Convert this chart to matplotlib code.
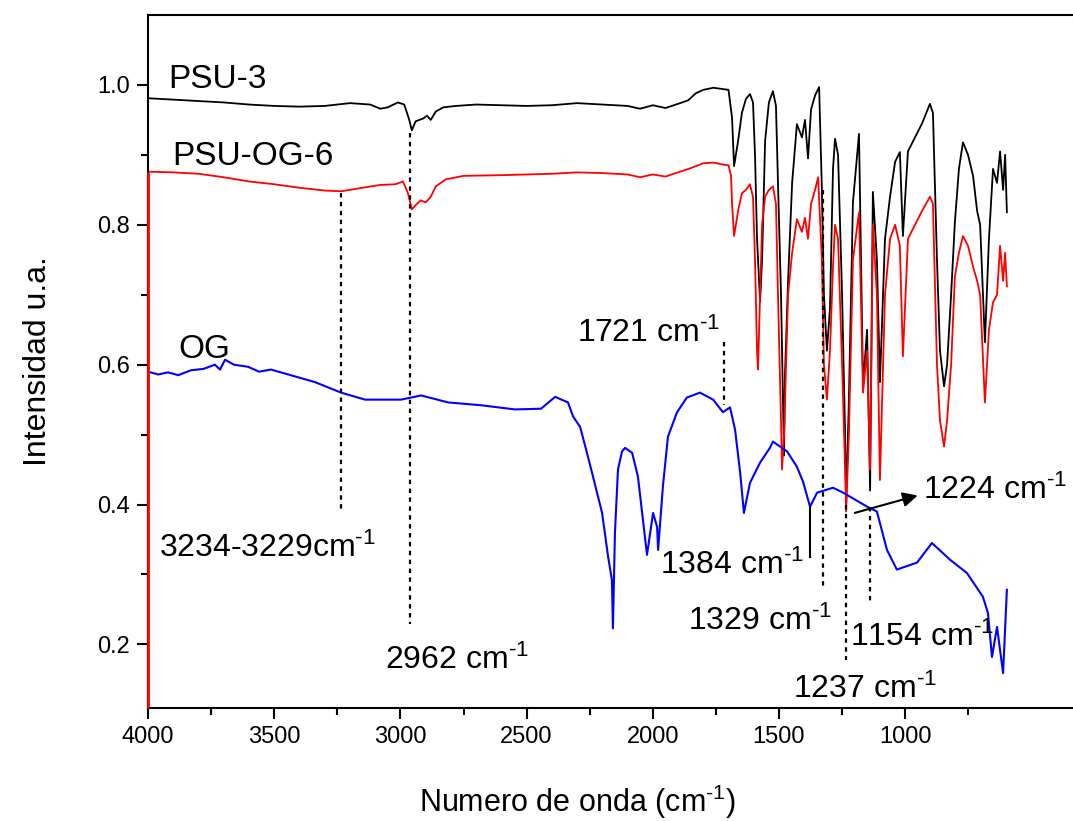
import matplotlib
matplotlib.use("Agg")
from matplotlib import pyplot as plt

plt.rcParams["font.family"] = ["Liberation Sans", "DejaVu Sans"]
plt.rcParams["mathtext.fontset"] = "custom"
plt.rcParams["mathtext.rm"] = "Liberation Sans"
plt.rcParams["mathtext.it"] = "Liberation Sans:italic"

# PSU-3 (black)
psu3_wn = [4000, 3900, 3800, 3700, 3600, 3500, 3400, 3300, 3200, 3120, 3080, 3050,
           3010, 2985, 2965, 2955, 2940, 2910, 2895, 2880, 2860, 2830, 2780, 2700,
           2600, 2500, 2400, 2300, 2200, 2100, 2050, 2000, 1950, 1900, 1860, 1830,
           1800, 1760, 1720, 1700, 1686, 1678, 1662, 1647, 1631, 1615, 1603, 1595,
           1587, 1575, 1567, 1555, 1540, 1524, 1512, 1504, 1492, 1480, 1476, 1464,
           1448, 1429, 1409, 1397, 1385, 1373, 1357, 1341, 1330, 1322, 1310, 1298,
           1286, 1278, 1266, 1250, 1238, 1234, 1223, 1207, 1183, 1167, 1151, 1139,
           1128, 1112, 1100, 1080, 1060, 1040, 1021, 1009, 989, 961, 933, 902, 890,
           874, 862, 846, 834, 818, 803, 787, 771, 751, 731, 715, 703, 684, 668,
           652, 636, 624, 612, 604, 597]
psu3_i = [0.981, 0.979, 0.977, 0.975, 0.972, 0.970, 0.969, 0.970, 0.974, 0.972, 0.966, 0.968,
          0.975, 0.972, 0.950, 0.935, 0.948, 0.952, 0.956, 0.950, 0.962, 0.968, 0.970, 0.972,
          0.971, 0.970, 0.971, 0.974, 0.972, 0.970, 0.966, 0.971, 0.967, 0.973, 0.978, 0.988,
          0.993, 0.996, 0.994, 0.993, 0.953, 0.884, 0.920, 0.960, 0.980, 0.987, 0.975, 0.900,
          0.780, 0.690, 0.750, 0.920, 0.975, 0.991, 0.970, 0.860, 0.700, 0.470, 0.589, 0.720,
          0.860, 0.944, 0.925, 0.950, 0.895, 0.965, 0.985, 0.997, 0.850, 0.700, 0.620, 0.680,
          0.880, 0.923, 0.900, 0.700, 0.500, 0.400, 0.550, 0.832, 0.930, 0.570, 0.650, 0.420,
          0.847, 0.750, 0.575, 0.780, 0.840, 0.890, 0.904, 0.784, 0.905, 0.925, 0.945, 0.973, 0.960,
          0.750, 0.620, 0.569, 0.600, 0.700, 0.804, 0.880, 0.918, 0.900, 0.870, 0.820, 0.800, 0.632, 0.780,
          0.880, 0.860, 0.905, 0.850, 0.900, 0.818]

# PSU-OG-6 (red)
psuog_wn = [4000, 3900, 3800, 3700, 3600, 3500, 3400, 3300, 3234, 3150, 3080, 3020,
            2990, 2970, 2955, 2940, 2920, 2900, 2880, 2860, 2820, 2750, 2600, 2500,
            2400, 2300, 2200, 2100, 2050, 2000, 1950, 1900, 1850, 1800, 1760, 1720,
            1700, 1690, 1686, 1678, 1662, 1647, 1631, 1615, 1603, 1595, 1587, 1583,
            1575, 1567, 1555, 1540, 1524, 1512, 1504, 1492, 1488, 1480, 1464, 1448,
            1429, 1409, 1397, 1385, 1373, 1357, 1345, 1330, 1322, 1310, 1298, 1286,
            1278, 1266, 1250, 1238, 1234, 1223, 1207, 1183, 1167, 1151, 1139, 1128,
            1112, 1100, 1080, 1060, 1040, 1021, 1009, 989, 961, 933, 902, 890, 874,
            862, 846, 834, 818, 803, 787, 771, 751, 731, 715, 703, 684, 668, 652,
            636, 624, 612, 604, 597]
psuog_i = [0.876, 0.875, 0.873, 0.868, 0.862, 0.858, 0.853, 0.849, 0.848, 0.853, 0.857, 0.858,
           0.862, 0.845, 0.822, 0.828, 0.835, 0.832, 0.840, 0.855, 0.865, 0.870, 0.871, 0.872,
           0.873, 0.875, 0.874, 0.872, 0.868, 0.872, 0.869, 0.875, 0.881, 0.888, 0.889, 0.886,
           0.885, 0.870, 0.830, 0.784, 0.820, 0.845, 0.850, 0.858, 0.840, 0.750, 0.620, 0.593,
           0.700, 0.800, 0.840, 0.850, 0.855, 0.830, 0.700, 0.520, 0.450, 0.500, 0.700, 0.760,
           0.808, 0.790, 0.810, 0.780, 0.830, 0.850, 0.868, 0.750, 0.600, 0.550, 0.620, 0.740,
           0.800, 0.780, 0.600, 0.450, 0.390, 0.500, 0.750, 0.818, 0.560, 0.620, 0.450, 0.800,
           0.700, 0.435, 0.700, 0.780, 0.800, 0.770, 0.612, 0.780, 0.800, 0.820, 0.840, 0.830, 0.600,
           0.520, 0.483, 0.520, 0.600, 0.726, 0.760, 0.784, 0.770, 0.740, 0.720, 0.700, 0.546, 0.650, 0.689,
           0.700, 0.770, 0.720, 0.760, 0.712]

# OG (blue)
og_wn = [4000, 3960, 3921, 3880, 3830, 3780, 3735, 3715, 3695, 3660, 3604, 3560, 3513,
         3445, 3338, 3235, 3140, 2998, 2918, 2811, 2681, 2546, 2443, 2387, 2336, 2316,
         2288, 2261, 2237, 2201, 2177, 2162, 2158, 2150, 2138, 2122, 2110, 2082, 2059,
         2039, 2023, 1999, 1983, 1979, 1960, 1940, 1904, 1865, 1813, 1761, 1722, 1694,
         1674, 1654, 1639, 1615, 1575, 1536, 1524, 1468, 1429, 1405, 1377, 1349, 1286,
         1246, 1151, 1112, 1072, 1033, 953, 894, 822, 755, 692, 672, 656, 636, 612, 597]
og_i = [0.590, 0.586, 0.589, 0.585, 0.592, 0.594, 0.600, 0.593, 0.607, 0.600, 0.597, 0.590,
        0.593, 0.586, 0.575, 0.560, 0.550, 0.550, 0.556, 0.546, 0.542, 0.536, 0.537, 0.554,
        0.546, 0.526, 0.511, 0.474, 0.440, 0.388, 0.325, 0.292, 0.223, 0.360, 0.450, 0.476,
        0.481, 0.474, 0.440, 0.378, 0.328, 0.388, 0.368, 0.335, 0.426, 0.497, 0.532, 0.553,
        0.560, 0.550, 0.532, 0.539, 0.507, 0.446, 0.388, 0.431, 0.460, 0.481, 0.490, 0.476,
        0.454, 0.433, 0.397, 0.417, 0.424, 0.417, 0.397, 0.390, 0.335, 0.307, 0.317, 0.345,
        0.321, 0.302, 0.268, 0.245, 0.182, 0.225, 0.159, 0.278]

fig = plt.figure(figsize=(10.73, 8.21), dpi=100)
ax = fig.add_axes([0.138, 0.1376, 0.862, 0.8441])

ax.plot(psu3_wn, psu3_i, color="black", lw=1.3)
ax.plot(psuog_wn, psuog_i, color="red", lw=1.3)
ax.plot(og_wn, og_i, color="blue", lw=1.5)

ax.set_xlim(4000, 335)
ax.set_ylim(0.109, 1.1)
ax.vlines(psuog_wn[0], 0.109, psuog_i[0], color="red", lw=2, zorder=5, clip_on=False)

# marker lines
dash = dict(color="black", lw=1.6, linestyle=(0, (2, 2)))
ax.plot([3234, 3234], [0.845, 0.388], **dash)
ax.plot([2962, 2962], [0.932, 0.229], **dash)
ax.plot([1718, 1718], [0.632, 0.543], **dash)
ax.plot([1326, 1326], [0.85, 0.28], **dash)
ax.plot([1234, 1234], [0.40, 0.178], **dash)
ax.plot([1139, 1139], [0.397, 0.262], **dash)
ax.plot([1378, 1378], [0.397, 0.325], color="black", lw=1.5)

sup = r"$^{\text{-}1}$"
fs = 23
ax.text(3920, 0.985, "PSU-3", fontsize=24, va="bottom")
ax.text(3905, 0.876, "PSU-OG-6", fontsize=24, va="bottom")
ax.text(3880, 0.600, "OG", fontsize=24, va="bottom")
ax.text(3955, 0.315, "3234-3229cm" + sup, fontsize=fs, va="bottom")
ax.text(3060, 0.155, "2962 cm" + sup, fontsize=fs, va="bottom")
ax.text(2300, 0.622, "1721 cm" + sup, fontsize=fs, va="bottom")
ax.text(1970, 0.290, "1384 cm" + sup, fontsize=fs, va="bottom")
ax.text(1860, 0.210, "1329 cm" + sup, fontsize=fs, va="bottom")
ax.text(1445, 0.113, "1237 cm" + sup, fontsize=fs, va="bottom")
ax.text(1220, 0.187, "1154 cm" + sup, fontsize=fs, va="bottom")
ax.text(930, 0.398, "1224 cm" + sup, fontsize=fs, va="bottom")
ax.annotate("", xy=(940, 0.414), xytext=(1210, 0.387),
            arrowprops=dict(arrowstyle="-|>", color="black", lw=1.5, mutation_scale=22))

ax.spines["right"].set_visible(False)
for s in ["left", "bottom", "top"]:
    ax.spines[s].set_linewidth(1.5)
ax.set_xticks([4000, 3500, 3000, 2500, 2000, 1500, 1000])
ax.set_xticks([3750, 3250, 2750, 2250, 1750, 1250, 750], minor=True)
ax.set_yticks([0.2, 0.4, 0.6, 0.8, 1.0])
ax.set_yticks([0.3, 0.5, 0.7, 0.9], minor=True)
ax.tick_params(which="both", direction="out", width=1.5, labelsize=17, top=False, right=False)
ax.tick_params(which="major", length=8, pad=5)
ax.tick_params(which="minor", length=5)
ax.set_yticklabels(["0.2", "0.4", "0.6", "0.8", "1.0"])

ax.set_xlabel("Numero de onda (cm" + sup + ")", fontsize=22)
ax.xaxis.set_label_coords(0.464, -0.108)
ax.set_ylabel("Intensidad u.a.", fontsize=23)
ax.yaxis.set_label_coords(-0.103, 0.5)

fig.savefig("out.png", dpi=100)
